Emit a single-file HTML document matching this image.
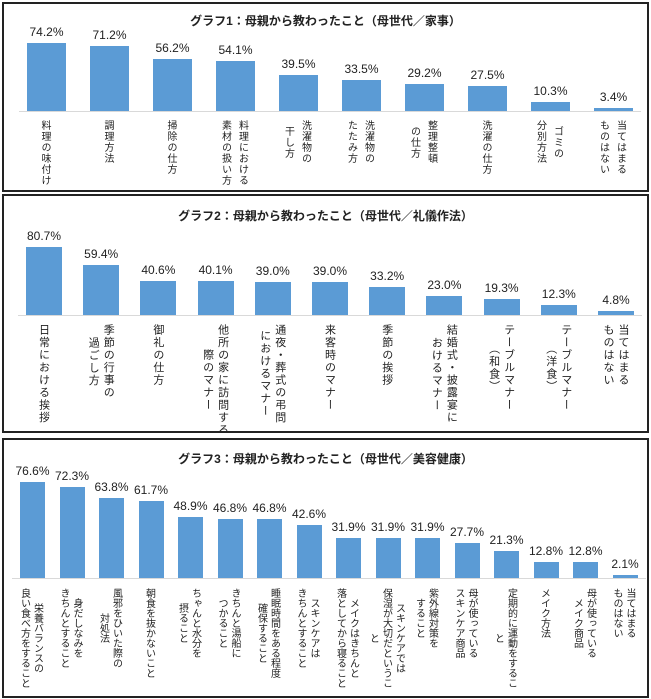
<!DOCTYPE html>
<html><head><meta charset="utf-8">
<style>
body{margin:0;width:651px;height:699px;background:#fff;position:relative;overflow:hidden;font-family:"Liberation Sans","Noto Sans CJK JP",sans-serif}
.panel{position:absolute;border:2px solid #222;box-sizing:border-box;background:#fff;overflow:hidden}
.title{position:absolute;left:0;right:0;text-align:center;font-size:12px;font-weight:bold;color:#222;font-family:"Liberation Sans","Noto Sans CJK JP",sans-serif}
.bar{position:absolute;background:#5b9bd5}
.val{position:absolute;text-align:center;color:#222;width:60px}
.base{position:absolute;height:1px;background:#d9d9d9}
.lab{position:absolute;writing-mode:vertical-rl;text-align:center;color:#222;white-space:nowrap;font-family:"Noto Sans CJK JP",sans-serif}
</style></head><body>
<div class="panel" id="p1" style="left:2px;top:2px;width:647px;height:190px">
<div class="title" style="top:8px">グラフ1：母親から教わったこと（母世代／家事）</div></div>
<div class="panel" id="p2" style="left:2px;top:194px;width:647px;height:239px">
<div class="title" style="top:11px">グラフ2：母親から教わったこと（母世代／礼儀作法）</div></div>
<div class="panel" id="p3" style="left:2px;top:438px;width:647px;height:260px">
<div class="title" style="top:10px">グラフ3：母親から教わったこと（母世代／美容健康）</div></div>
<script>
const cats1=["料理の味付け","調理方法","掃除の仕方","料理における\n素材の扱い方","洗濯物の\n干し方","洗濯物の\nたたみ方","整理整頓\nの仕方","洗濯の仕方","ゴミの\n分別方法","当てはまる\nものはない"];
const vals1=[74.2,71.2,56.2,54.1,39.5,33.5,29.2,27.5,10.3,3.4];
const cats2=["日常における挨拶","季節の行事の\n過ごし方","御礼の仕方","他所の家に訪問する\n際のマナー","通夜・葬式の弔問\nにおけるマナー","来客時のマナー","季節の挨拶","結婚式・披露宴に\nおけるマナー","テーブルマナー\n（和食）","テーブルマナー\n（洋食）","当てはまる\nものはない"];
const vals2=[80.7,59.4,40.6,40.1,39.0,39.0,33.2,23.0,19.3,12.3,4.8];
const cats3=["栄養バランスの\n良い食べ方をすること","身だしなみを\nきちんとすること","風邪をひいた際の\n対処法","朝食を抜かないこと","ちゃんと水分を\n摂ること","きちんと湯船に\nつかること","睡眠時間をある程度\n確保すること","スキンケアは\nきちんとすること","メイクはきちんと\n落としてから寝ること","スキンケアでは\n保湿が大切だというこ\nと","紫外線対策を\nすること","母が使っている\nスキンケア商品","定期的に運動をするこ\nと","メイク方法","母が使っている\nメイク商品","当てはまる\nものはない"];
const vals3=[76.6,72.3,63.8,61.7,48.9,46.8,46.8,42.6,31.9,31.9,31.9,27.7,21.3,12.8,12.8,2.1];

function draw(id,cats,vals,cfg){
  const p=document.getElementById(id);
  const n=cats.length;
  const x=i=>cfg.x0+i*cfg.pitch;
  const h=v=>v*cfg.scale;
  const base=document.createElement('div');
  base.className='base';
  
  
  base.style.left=(cfg.x0-8)+'px';base.style.width=(x(n-1)+cfg.w-cfg.x0+16)+'px';base.style.top=cfg.base+'px';
  p.appendChild(base);
  for(let i=0;i<n;i++){
    const b=document.createElement('div');
    b.className='bar';
    
    
    b.style.left=x(i)+'px';b.style.width=cfg.w+'px';
    b.style.top=(cfg.base-h(vals[i]))+'px';b.style.height=h(vals[i])+'px';
    p.appendChild(b);
    const t=document.createElement('div');
    t.className='val';
    
    
    t.textContent=vals[i].toFixed(1)+'%';
    t.style.fontSize=cfg.vf+'px';
    t.style.left=(x(i)+cfg.w/2-30)+'px';
    t.style.top=(cfg.base-h(vals[i])-cfg.vf-6)+'px';
    p.appendChild(t);
    const l=document.createElement('div');
    l.className='lab';
    
    
    l.innerHTML=cats[i].split('\n').join('<br>');
    l.style.fontSize=cfg.lf+'px';l.style.letterSpacing=cfg.ls+'px';l.style.lineHeight=cfg.lh+'px';
    l.style.top=(cfg.base+cfg.lt)+'px';
    p.appendChild(l);
    const lw=l.offsetWidth;
    l.style.left=(x(i)+cfg.w/2-lw/2)+'px';
  }
}
draw('p1',cats1,vals1,{x0:23,pitch:63,w:39,base:107,scale:0.917,vf:12,lf:10,ls:1,lh:17,lt:9});
draw('p2',cats2,vals2,{x0:22,pitch:57.2,w:36,base:119,scale:0.843,vf:12,lf:11,ls:1.5,lh:15,lt:9});
draw('p3',cats3,vals3,{x0:16,pitch:39.5,w:25,base:138,scale:1.253,vf:12,lf:10,ls:0,lh:13,lt:10});
</script>
</body></html>
